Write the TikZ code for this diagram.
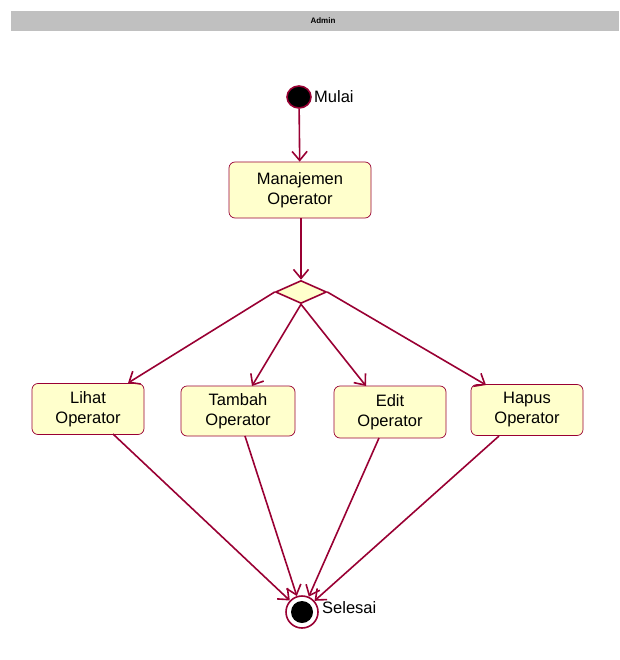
\documentclass[tikz,border=0pt]{standalone}
\usepackage{fontspec}
\setmainfont{Liberation Sans}
\usetikzlibrary{shapes.geometric,arrows.meta}
\definecolor{edge}{HTML}{990033}
\definecolor{boxfill}{HTML}{FFFFCC}
\begin{document}
\begin{tikzpicture}[x=1pt,y=-1pt,
  act/.style={draw=edge,fill=boxfill,rounded corners=6pt,line width=0.7pt,minimum width=112pt,minimum height=51pt,align=center,font=\fontsize{16.5}{20}\selectfont,inner sep=0pt},
  flow/.style={draw=edge,line width=1.6pt,-{Straight Barb[length=9pt,width=15pt,line width=1.6pt]}},
  lbl/.style={font=\fontsize{16.5}{19}\selectfont,inner sep=0pt,anchor=west}]
\useasboundingbox (0,0) rectangle (619,660);
\fill[fill={rgb,255:red,192;green,192;blue,192}] (11,11) rectangle (619,31);
\node[font=\bfseries\fontsize{8}{9}\selectfont] (title) at (323,21) {Admin};
\node[draw=edge,fill=black,ellipse,line width=1.6pt,minimum width=24pt,minimum height=22pt,inner sep=0pt] (start) at (299,97) {};
\node[lbl] (mulai) at (314,97) {Mulai};
\node[act,minimum width=142pt,minimum height=56pt] (man) at (300,190) {Manajemen\\Operator};
\node[diamond,draw=edge,fill=boxfill,line width=1.6pt,minimum width=51pt,minimum height=23pt,inner sep=0pt,aspect=2.2] (dec) at (301,292) {};
\node[act] (lihat) at (88,409) {Lihat\\Operator};
\node[act,minimum width=114pt,minimum height=50pt] (tambah) at (238,411) {Tambah\\Operator};
\node[act,minimum height=52pt] (edit) at (390,412) {Edit\\Operator};
\node[act] (hapus) at (527,410) {Hapus\\Operator};
\node[circle,draw=edge,line width=1.6pt,minimum size=32pt,inner sep=0pt] (end) at (302,612) {};
\node[circle,fill=black,minimum size=22pt,inner sep=0pt] (endin) at (302,612) {};
\node[lbl] (selesai) at (322,608) {Selesai};
\coordinate (m1) at (301,218);
\coordinate (l1) at (128,383);
\coordinate (t1) at (252,386);
\coordinate (e1) at (366,386);
\coordinate (h1) at (486,385);
\coordinate (lb) at (113,434);
\coordinate (tb) at (245,436);
\coordinate (eb) at (379,438);
\coordinate (hb) at (499,436);
\draw[flow] (start) -- (man);
\draw[flow] (m1) -- (dec.north);
\draw[flow] (dec.west) -- (l1);
\draw[flow] (dec.south) -- (t1);
\draw[flow] (dec.south) -- (e1);
\draw[flow] (dec.east) -- (h1);
\draw[flow] (lb) -- (end);
\draw[flow] (tb) -- (end);
\draw[flow] (eb) -- (end);
\draw[flow] (hb) -- (end);
\end{tikzpicture}
\end{document}
